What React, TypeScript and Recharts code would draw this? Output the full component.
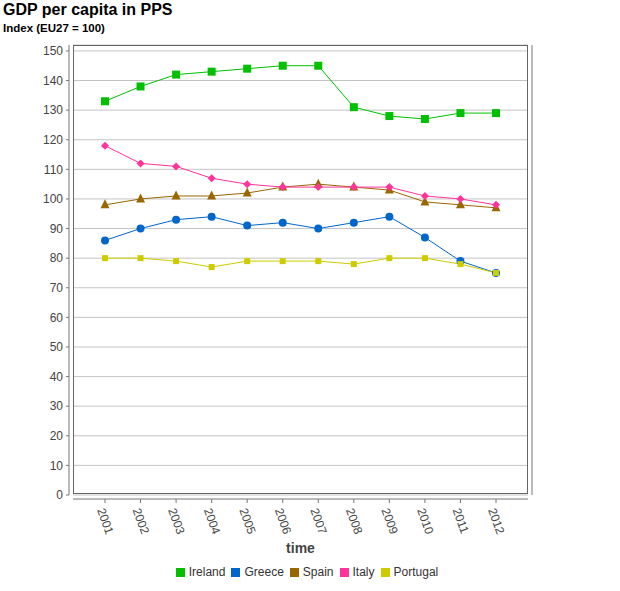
import React from "react";
import {
  LineChart, Line, XAxis, YAxis, CartesianGrid, Legend,
} from "recharts";

const years = ["2001", "2002", "2003", "2004", "2005", "2006", "2007", "2008", "2009", "2010", "2011", "2012"];
const ireland  = [133, 138, 142, 143, 144, 145, 145, 131, 128, 127, 129, 129];
const greece   = [86, 90, 93, 94, 91, 92, 90, 92, 94, 87, 79, 75];
const spain    = [98, 100, 101, 101, 102, 104, 105, 104, 103, 99, 98, 97];
const italy    = [118, 112, 111, 107, 105, 104, 104, 104, 104, 101, 100, 98];
const portugal = [80, 80, 79, 77, 79, 79, 79, 78, 80, 80, 78, 75];
const yTicks   = [0, 10, 20, 30, 40, 50, 60, 70, 80, 90, 100, 110, 120, 130, 140, 150];

const FONT = "Arial, 'Liberation Sans', sans-serif";

const data = years.map((y, i) => ({
  year:     y,
  Ireland:  ireland[i],
  Greece:   greece[i],
  Spain:    spain[i],
  Italy:    italy[i],
  Portugal: portugal[i],
}));

type Shape = "square" | "circle" | "triangle" | "diamond";

const series: { key: string; color: string; shape: Shape; size: number }[] = [
  { key: "Ireland",  color: "#00c000", shape: "square",   size: 8 },
  { key: "Greece",   color: "#0066cc", shape: "circle",   size: 8 },
  { key: "Spain",    color: "#996600", shape: "triangle", size: 9 },
  { key: "Italy",    color: "#ff3399", shape: "diamond",  size: 8 },
  { key: "Portugal", color: "#cccc00", shape: "square",   size: 6 },
];

function makeDot(shape: Shape, color: string, size: number) {
  return (props: any) => {
    const { cx, cy, index } = props;
    if (cx == null || cy == null) return <g key={index} />;
    const h = size / 2;
    if (shape === "circle") {
      return <circle key={index} cx={cx} cy={cy} r={h} fill={color} />;
    }
    if (shape === "triangle") {
      return <polygon key={index} points={`${cx},${cy - h - 1} ${cx + h},${cy + h - 1} ${cx - h},${cy + h - 1}`} fill={color} />;
    }
    if (shape === "diamond") {
      return <polygon key={index} points={`${cx},${cy - h} ${cx + h},${cy} ${cx},${cy + h} ${cx - h},${cy}`} fill={color} />;
    }
    return <rect key={index} x={cx - h} y={cy - h} width={size} height={size} fill={color} />;
  };
}

function YearTick({ x, y, payload }: any) {
  return (
    <text
      transform={`translate(${x - 8},${y + 9}) rotate(70)`}
      textAnchor="start"
      fontSize={12}
      fontFamily={FONT}
      fill="#444"
    >
      {payload.value}
    </text>
  );
}

function LegendContent() {
  return (
    <div style={{ display: "flex", justifyContent: "center", fontFamily: FONT, fontSize: 12, color: "#333" }}>
      {series.map((s) => (
        <span key={s.key} style={{ display: "inline-flex", alignItems: "center", marginRight: 6 }}>
          <span style={{ width: 9, height: 9, background: s.color, marginRight: 4, display: "inline-block" }} />
          {s.key}
        </span>
      ))}
    </div>
  );
}

export default function App() {
  return (
    <div style={{ position: "absolute", left: 0, top: 0, width: 620, height: 591, background: "#fff", fontFamily: FONT }}>
      <div style={{ position: "absolute", left: 3, top: 1, fontSize: 16, fontWeight: "bold", color: "#000" }}>
        GDP per capita in PPS
      </div>
      <div style={{ position: "absolute", left: 3, top: 22, fontSize: 11.5, fontWeight: "bold", color: "#000" }}>
        Index (EU27 = 100)
      </div>
      <div style={{ position: "absolute", left: 73, top: 45, width: 455, height: 449, border: "1px solid #666", boxSizing: "border-box", pointerEvents: "none", zIndex: 1 }} />
      <LineChart width={620} height={591} data={data} margin={{ top: 45, right: 0, bottom: 12, left: 0 }}>
        <CartesianGrid yAxisId="left" stroke="#c4c4c4" vertical={false} />
        <XAxis
          dataKey="year"
          height={70}
          padding={{ left: 32, right: 32 }}
          axisLine={{ stroke: "#777", transform: "translate(0,4)" }}
          tickLine={{ stroke: "#777", transform: "translate(0,4)" }}
          tickSize={4}
          tickMargin={2}
          tick={<YearTick />}
          interval={0}
          label={{ value: "time", position: "insideBottom", offset: 12, fontSize: 14, fontWeight: "bold", fill: "#444", fontFamily: FONT }}
        />
        <YAxis
          yAxisId="left"
          width={73}
          domain={[0, 152]}
          ticks={yTicks}
          interval={0}
          axisLine={{ stroke: "#777", transform: "translate(-4,0)" }}
          tickLine={{ stroke: "#777", transform: "translate(-4,0)" }}
          tickSize={3}
          tickMargin={7}
          tick={{ fontSize: 12, fill: "#444", fontFamily: FONT }}
        />
        <YAxis
          yAxisId="right"
          orientation="right"
          width={92}
          domain={[0, 152]}
          ticks={yTicks}
          interval={0}
          axisLine={{ stroke: "#777", transform: "translate(4,0)" }}
          tickLine={{ stroke: "#777", transform: "translate(4,0)" }}
          tickSize={3}
          tickMargin={7}
          tick={{ fontSize: 12, fill: "#444", fontFamily: FONT, textAnchor: "start" }}
        />
        <Legend verticalAlign="bottom" content={<LegendContent />} />
        {series.map((s) => (
          <Line
            key={s.key}
            yAxisId="left"
            dataKey={s.key}
            stroke={s.color}
            strokeWidth={1}
            dot={makeDot(s.shape, s.color, s.size)}
            activeDot={false}
            isAnimationActive={false}
          />
        ))}
      </LineChart>
    </div>
  );
}
